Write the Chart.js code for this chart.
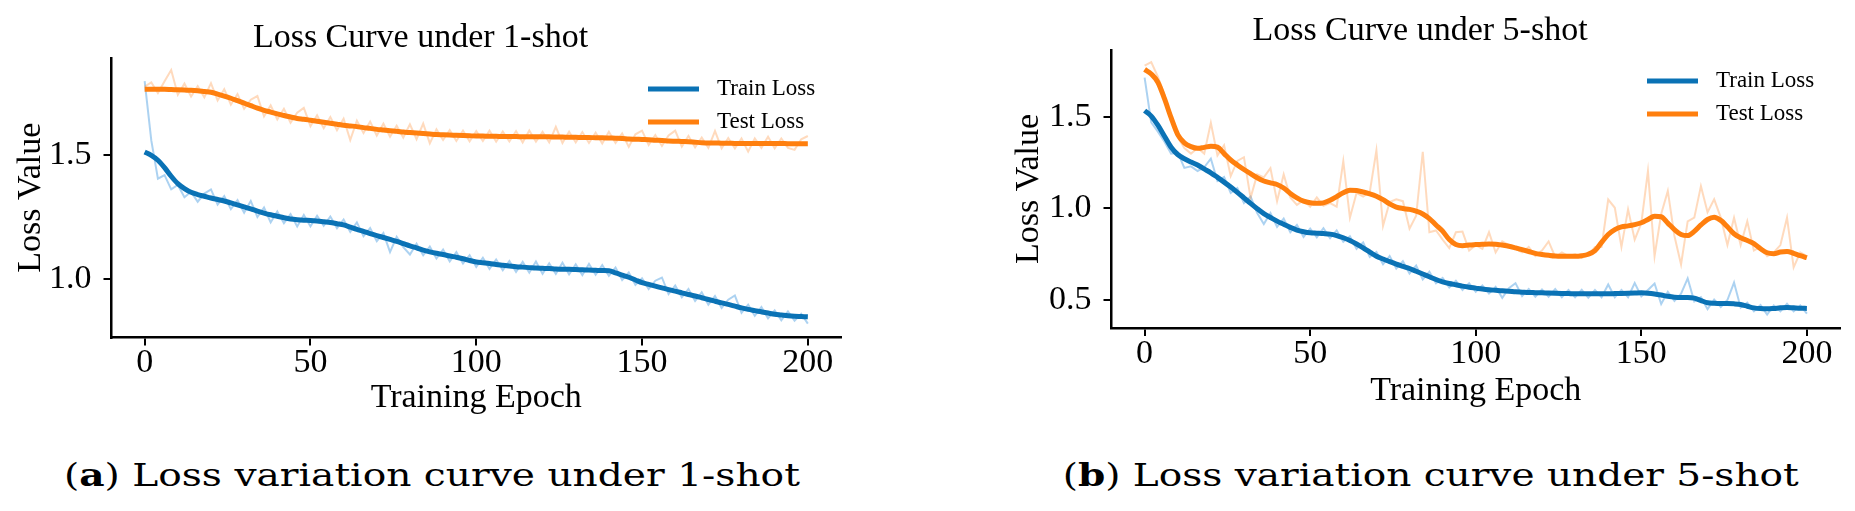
<!DOCTYPE html>
<html>
<head>
<meta charset="utf-8">
<script src="https://cdn.jsdelivr.net/npm/chart.js@4.4.1/dist/chart.umd.min.js"></script>
<style>
  html, body { margin: 0; padding: 0; background: #fff; }
  body { width: 1855px; height: 511px; position: relative; overflow: hidden; }
  .panel { position: absolute; top: 0; height: 440px; }
  .cap {
    position: absolute; top: 459px; width: 862px; text-align: center;
    font-family: "DejaVu Serif", serif; font-size: 32px; line-height: 32px;
    white-space: nowrap; color: #000;
  }
  .cap span { display: inline-block; transform-origin: center; }
</style>
</head>
<body>
<div class="panel" style="left:0;width:900px;"><canvas id="chart1"></canvas></div>
<div class="panel" style="left:1000px;width:855px;"><canvas id="chart5"></canvas></div>
<div class="cap" style="left:1px;"><span>(<b>a</b>) Loss variation curve under 1-shot</span></div>
<div class="cap" style="left:1000px;"><span>(<b>b</b>) Loss variation curve under 5-shot</span></div>

<script>
// training epochs (every 2nd epoch)
const epochs = [
  0, 2, 4, 6, 8, 10, 12, 14, 16, 18,
  20, 22, 24, 26, 28, 30, 32, 34, 36, 38,
  40, 42, 44, 46, 48, 50, 52, 54, 56, 58,
  60, 62, 64, 66, 68, 70, 72, 74, 76, 78,
  80, 82, 84, 86, 88, 90, 92, 94, 96, 98,
  100, 102, 104, 106, 108, 110, 112, 114, 116, 118,
  120, 122, 124, 126, 128, 130, 132, 134, 136, 138,
  140, 142, 144, 146, 148, 150, 152, 154, 156, 158,
  160, 162, 164, 166, 168, 170, 172, 174, 176, 178,
  180, 182, 184, 186, 188, 190, 192, 194, 196, 198,
  200
];
const xTicks = [0, 50, 100, 150, 200];

// ---- 1-shot ----
const shot1TrainSmooth = [
  1.513, 1.500, 1.480, 1.450, 1.415, 1.385, 1.365, 1.350, 1.341, 1.334,
  1.327, 1.321, 1.315, 1.307, 1.299, 1.291, 1.283, 1.274, 1.266, 1.259,
  1.253, 1.247, 1.242, 1.239, 1.237, 1.236, 1.234, 1.231, 1.228, 1.223,
  1.218, 1.209, 1.200, 1.192, 1.183, 1.175, 1.167, 1.159, 1.151, 1.142,
  1.133, 1.125, 1.116, 1.109, 1.103, 1.098, 1.092, 1.087, 1.081, 1.074,
  1.068, 1.065, 1.062, 1.058, 1.055, 1.052, 1.049, 1.047, 1.045, 1.043,
  1.042, 1.041, 1.039, 1.038, 1.038, 1.037, 1.036, 1.035, 1.034, 1.033,
  1.032, 1.024, 1.015, 1.006, 0.995, 0.984, 0.977, 0.970, 0.963, 0.956,
  0.950, 0.943, 0.936, 0.930, 0.923, 0.916, 0.909, 0.902, 0.896, 0.889,
  0.882, 0.876, 0.871, 0.866, 0.861, 0.856, 0.853, 0.850, 0.848, 0.847,
  0.846
];
const shot1TrainRaw = [
  1.800, 1.560, 1.405, 1.420, 1.362, 1.380, 1.330, 1.352, 1.312, 1.345,
  1.362, 1.300, 1.335, 1.282, 1.318, 1.268, 1.315, 1.250, 1.288, 1.228,
  1.272, 1.225, 1.262, 1.212, 1.258, 1.212, 1.255, 1.215, 1.252, 1.205,
  1.240, 1.190, 1.228, 1.172, 1.205, 1.152, 1.185, 1.108, 1.170, 1.128,
  1.098, 1.142, 1.095, 1.130, 1.082, 1.118, 1.070, 1.108, 1.062, 1.095,
  1.048, 1.085, 1.040, 1.078, 1.035, 1.072, 1.028, 1.068, 1.025, 1.070,
  1.020, 1.062, 1.020, 1.065, 1.018, 1.058, 1.015, 1.060, 1.016, 1.055,
  1.012, 1.045, 0.995, 1.025, 0.975, 1.002, 0.958, 0.992, 1.005, 0.938,
  0.972, 0.925, 0.958, 0.910, 0.945, 0.895, 0.930, 0.882, 0.915, 0.932,
  0.862, 0.895, 0.850, 0.885, 0.840, 0.872, 0.832, 0.868, 0.830, 0.858,
  0.818
];
const shot1TestSmooth = [
  1.767, 1.767, 1.767, 1.767, 1.766, 1.765, 1.764, 1.763, 1.761, 1.758,
  1.755, 1.748, 1.740, 1.731, 1.721, 1.711, 1.701, 1.691, 1.682, 1.675,
  1.668, 1.661, 1.655, 1.649, 1.646, 1.642, 1.638, 1.634, 1.630, 1.626,
  1.622, 1.619, 1.616, 1.612, 1.609, 1.605, 1.602, 1.599, 1.597, 1.594,
  1.592, 1.590, 1.588, 1.586, 1.584, 1.583, 1.582, 1.581, 1.580, 1.579,
  1.578, 1.578, 1.577, 1.577, 1.576, 1.576, 1.576, 1.575, 1.575, 1.575,
  1.575, 1.575, 1.574, 1.574, 1.573, 1.573, 1.572, 1.572, 1.571, 1.571,
  1.570, 1.569, 1.568, 1.566, 1.565, 1.564, 1.563, 1.561, 1.560, 1.558,
  1.557, 1.556, 1.555, 1.553, 1.551, 1.550, 1.550, 1.549, 1.549, 1.548,
  1.548, 1.548, 1.548, 1.548, 1.548, 1.548, 1.548, 1.547, 1.547, 1.547,
  1.547
];
const shot1TestRaw = [
  1.778, 1.795, 1.752, 1.800, 1.845, 1.745, 1.790, 1.738, 1.780, 1.735,
  1.792, 1.722, 1.768, 1.705, 1.748, 1.688, 1.725, 1.740, 1.658, 1.702,
  1.645, 1.688, 1.632, 1.672, 1.692, 1.618, 1.662, 1.610, 1.655, 1.602,
  1.648, 1.562, 1.640, 1.590, 1.636, 1.580, 1.628, 1.575, 1.620, 1.572,
  1.625, 1.565, 1.628, 1.548, 1.605, 1.562, 1.602, 1.558, 1.600, 1.556,
  1.598, 1.558, 1.600, 1.555, 1.596, 1.556, 1.598, 1.552, 1.600, 1.555,
  1.595, 1.552, 1.615, 1.550, 1.596, 1.552, 1.594, 1.550, 1.592, 1.548,
  1.595, 1.550, 1.588, 1.534, 1.585, 1.600, 1.542, 1.582, 1.538, 1.580,
  1.600, 1.535, 1.578, 1.532, 1.572, 1.530, 1.598, 1.528, 1.570, 1.528,
  1.568, 1.515, 1.568, 1.530, 1.575, 1.528, 1.568, 1.530, 1.522, 1.565,
  1.578
];

// ---- 5-shot ----
const shot5TrainSmooth = [
  1.535, 1.505, 1.455, 1.395, 1.335, 1.295, 1.272, 1.254, 1.238, 1.216,
  1.195, 1.170, 1.144, 1.117, 1.088, 1.058, 1.028, 0.999, 0.972, 0.951,
  0.931, 0.914, 0.897, 0.882, 0.873, 0.867, 0.865, 0.863, 0.860, 0.852,
  0.840, 0.825, 0.806, 0.785, 0.762, 0.739, 0.724, 0.710, 0.696, 0.684,
  0.672, 0.657, 0.642, 0.627, 0.612, 0.599, 0.590, 0.583, 0.576, 0.570,
  0.565, 0.560, 0.556, 0.553, 0.550, 0.548, 0.545, 0.543, 0.541, 0.540,
  0.539, 0.538, 0.537, 0.536, 0.535, 0.534, 0.534, 0.534, 0.534, 0.534,
  0.534, 0.535, 0.536, 0.537, 0.538, 0.539, 0.537, 0.533, 0.527, 0.520,
  0.515, 0.513, 0.513, 0.510, 0.497, 0.485, 0.482, 0.481, 0.481, 0.479,
  0.475, 0.466, 0.457, 0.453, 0.452, 0.454, 0.457, 0.459, 0.457, 0.455,
  0.454
];
const shot5TrainRaw = [
  1.715, 1.470, 1.420, 1.365, 1.300, 1.305, 1.222, 1.230, 1.205, 1.225,
  1.272, 1.150, 1.172, 1.085, 1.112, 1.030, 1.065, 0.975, 0.915, 0.975,
  0.900, 0.945, 0.870, 0.910, 0.845, 0.890, 0.842, 0.892, 0.838, 0.880,
  0.818, 0.848, 0.780, 0.815, 0.735, 0.762, 0.695, 0.740, 0.672, 0.712,
  0.645, 0.688, 0.612, 0.655, 0.592, 0.620, 0.568, 0.605, 0.555, 0.592,
  0.545, 0.580, 0.535, 0.572, 0.512, 0.565, 0.592, 0.522, 0.560, 0.518,
  0.558, 0.518, 0.560, 0.515, 0.555, 0.515, 0.556, 0.512, 0.555, 0.515,
  0.585, 0.515, 0.555, 0.515, 0.592, 0.520, 0.555, 0.590, 0.478, 0.545,
  0.495, 0.535, 0.618, 0.492, 0.515, 0.450, 0.502, 0.462, 0.500, 0.595,
  0.458, 0.485, 0.438, 0.472, 0.420, 0.470, 0.438, 0.480, 0.438, 0.470,
  0.425
];
const shot5TestSmooth = [
  1.760, 1.735, 1.690, 1.600, 1.496, 1.404, 1.359, 1.338, 1.329, 1.334,
  1.340, 1.335, 1.300, 1.265, 1.238, 1.213, 1.190, 1.168, 1.150, 1.140,
  1.131, 1.112, 1.082, 1.058, 1.040, 1.031, 1.028, 1.031, 1.045, 1.065,
  1.086, 1.100, 1.098, 1.090, 1.080, 1.067, 1.048, 1.025, 1.008, 1.000,
  0.995, 0.985, 0.970, 0.945, 0.910, 0.876, 0.830, 0.803, 0.797, 0.800,
  0.803, 0.804, 0.806, 0.805, 0.800, 0.794, 0.785, 0.775, 0.765, 0.755,
  0.749, 0.744, 0.740, 0.739, 0.739, 0.739, 0.742, 0.750, 0.770, 0.815,
  0.858, 0.885, 0.900, 0.905, 0.912, 0.922, 0.940, 0.958, 0.955, 0.920,
  0.885, 0.858, 0.852, 0.875, 0.910, 0.940, 0.952, 0.935, 0.900, 0.862,
  0.840, 0.825, 0.808, 0.780, 0.758, 0.753, 0.762, 0.765, 0.755, 0.742,
  0.731
];
const shot5TestRaw = [
  1.780, 1.800, 1.720, 1.620, 1.500, 1.390, 1.330, 1.300, 1.330, 1.300,
  1.468, 1.290, 1.345, 1.177, 1.260, 1.280, 1.058, 1.186, 1.170, 1.220,
  1.040, 1.186, 1.060, 1.020, 1.045, 1.010, 1.060, 1.015, 1.030, 1.010,
  1.259, 0.950, 1.085, 1.065, 1.090, 1.317, 0.905, 1.035, 1.050, 1.040,
  0.890, 0.960, 1.310, 0.870, 0.880, 0.830, 0.784, 0.870, 0.874, 0.770,
  0.800, 0.780, 0.870, 0.760, 0.820, 0.800, 0.780, 0.760, 0.790, 0.740,
  0.770, 0.820, 0.735, 0.760, 0.740, 0.750, 0.730, 0.745, 0.790, 0.790,
  1.049, 1.004, 0.790, 0.995, 0.830, 0.920, 1.204, 0.740, 0.970, 1.096,
  0.850, 0.694, 0.930, 0.950, 1.122, 0.980, 1.050, 0.950, 0.800, 0.950,
  0.800, 0.930, 0.770, 0.790, 0.740, 0.760, 0.800, 0.950, 0.678, 0.760,
  0.740
];

const BLUE = '#0a72b5';
const ORANGE = '#ff7f0e';
const BLUE_LIGHT = 'rgba(90,165,228,0.5)';
const ORANGE_LIGHT = 'rgba(255,140,50,0.32)';
const SERIF = '"Liberation Serif", "Times New Roman", serif';

function pts(values) {
  return epochs.map((e, i) => ({ x: e, y: values[i] }));
}

// legend drawn inside the plot, top right
const lossLegend = {
  id: 'lossLegend',
  afterDraw(chart) {
    const { ctx, chartArea } = chart;
    const items = [['Train Loss', BLUE], ['Test Loss', ORANGE]];
    ctx.save();
    ctx.font = '23px ' + SERIF;
    ctx.textBaseline = 'middle';
    ctx.textAlign = 'left';
    items.forEach((it, i) => {
      const y = chartArea.top + 31 + i * 33;
      ctx.strokeStyle = it[1];
      ctx.lineWidth = 5;
      ctx.beginPath();
      ctx.moveTo(chartArea.right - 193, y);
      ctx.lineTo(chartArea.right - 142, y);
      ctx.stroke();
      ctx.fillStyle = '#000';
      ctx.fillText(it[0], chartArea.right - 124, y);
    });
    ctx.restore();
  }
};

function makeChart(id, p) {
  const ctx = document.getElementById(id).getContext('2d');
  return new Chart(ctx, {
    type: 'line',
    data: {
      datasets: [{
        label: 'Train Loss',
        data: pts(p.trainSmooth),
        borderColor: BLUE,
        borderWidth: 5,
        cubicInterpolationMode: 'monotone',
        order: 1
      }, {
        label: 'Test Loss',
        data: pts(p.testSmooth),
        borderColor: ORANGE,
        borderWidth: 5,
        cubicInterpolationMode: 'monotone',
        order: 0
      }, {
        label: 'Train Raw',
        data: pts(p.trainRaw),
        borderColor: BLUE_LIGHT,
        borderWidth: 2,
        tension: 0,
        order: 3
      }, {
        label: 'Test Raw',
        data: pts(p.testRaw),
        borderColor: ORANGE_LIGHT,
        borderWidth: 2,
        tension: 0,
        order: 2
      }]
    },
    options: {
      responsive: true,
      maintainAspectRatio: false,
      animation: false,
      elements: { point: { radius: 0 } },
      layout: { padding: p.padding },
      plugins: {
        legend: { display: false },
        tooltip: { enabled: false },
        title: {
          display: true,
          text: p.title,
          color: '#000',
          font: { family: SERIF, size: 34, weight: 'normal', lineHeight: 1 },
          padding: p.titlePad
        }
      },
      scales: {
        x: {
          type: 'linear',
          min: -10,
          max: 210,
          afterBuildTicks: s => { s.ticks = xTicks.map(v => ({ value: v })); },
          afterFit: s => { s.height = 82; },
          ticks: {
            color: '#000', padding: 1, maxRotation: 0, autoSkip: false,
            font: { family: SERIF, size: 34, lineHeight: 1 }
          },
          grid: { drawOnChartArea: false, drawTicks: true, tickLength: 8, color: '#000', lineWidth: 2 },
          border: { display: true, color: '#000', width: 2.5 },
          title: {
            display: true, text: 'Training Epoch', color: '#000',
            font: { family: SERIF, size: 34, lineHeight: 1 },
            padding: { top: 0, bottom: p.xTitlePad }
          }
        },
        y: {
          min: p.yMin,
          max: p.yMax,
          afterBuildTicks: s => { s.ticks = p.yTicks.map(v => ({ value: v })); },
          afterFit: s => { s.width = 111.5; },
          ticks: {
            color: '#000', padding: 12,
            font: { family: SERIF, size: 34, lineHeight: 1 },
            callback: v => v.toFixed(1)
          },
          grid: { drawOnChartArea: false, drawTicks: true, tickLength: 8, color: '#000', lineWidth: 2 },
          border: { display: true, color: '#000', width: 2.5 },
          title: {
            display: true, text: 'Loss Value', color: '#000',
            font: { family: SERIF, size: 34, lineHeight: 1 },
            padding: { top: p.yTitlePad, bottom: 0 }
          }
        }
      }
    },
    plugins: [lossLegend]
  });
}

makeChart('chart1', {
  title: 'Loss Curve under 1-shot',
  trainSmooth: shot1TrainSmooth, testSmooth: shot1TestSmooth,
  trainRaw: shot1TrainRaw, testRaw: shot1TestRaw,
  yMin: 0.762, yMax: 1.894, yTicks: [1.0, 1.5],
  padding: { left: 0, right: 59, top: 0, bottom: 20.5 },
  titlePad: { top: 21.5, bottom: 2.5 },
  xTitlePad: 4,
  yTitlePad: 14.5
});

makeChart('chart5', {
  title: 'Loss Curve under 5-shot',
  trainSmooth: shot5TrainSmooth, testSmooth: shot5TestSmooth,
  trainRaw: shot5TrainRaw, testRaw: shot5TestRaw,
  yMin: 0.347, yMax: 1.866, yTicks: [0.5, 1.0, 1.5],
  padding: { left: 0, right: 15, top: 0, bottom: 30 },
  titlePad: { top: 14.5, bottom: 1.5 },
  xTitlePad: 1.5,
  yTitlePad: 12.5
});

// captions are stretched to the width they have in the figure
document.querySelectorAll('.cap span').forEach(sp => {
  const w = sp.getBoundingClientRect().width;
  sp.style.transform = 'scaleX(' + (736 / w) + ')';
});
</script>
</body>
</html>
